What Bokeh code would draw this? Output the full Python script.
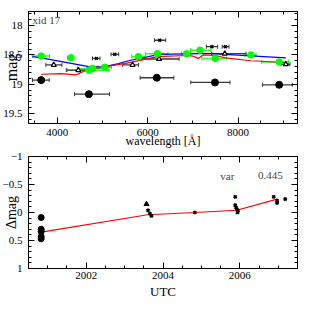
import numpy as np
from bokeh.plotting import figure
from bokeh.layouts import column
from bokeh.models import Range1d, LinearAxis, Label, FixedTicker
from bokeh.embed import file_html
from bokeh.resources import INLINE

# ---------------- top panel data (wavelength [A], mag) ----------------
blk_wl = [3645, 4700, 6203, 7490, 8910]
blk_mag = [18.93, 19.17, 18.89, 18.97, 19.01]
blk_lo = [3453, 4383, 5834, 6954, 8540]
blk_hi = [3822, 5158, 6580, 7823, 9200]

grn_wl = [3645, 4300, 4700, 4780, 5050, 5796, 6216, 6862, 7157, 7495, 8283, 8910]
grn_mag = [18.52, 18.55, 18.76, 18.73, 18.71, 18.53, 18.48, 18.48, 18.42, 18.56, 18.50, 18.62]
grn_lo = [3450, 4230, 4220, 4450, 4900, 5650, 5950, 6750, 6950, 7200, 8150, 8526]
grn_hi = [3830, 4370, 5145, 5100, 5200, 5950, 6450, 6950, 7400, 7750, 8400, 9117]

xm_wl = [4866, 5274, 6268, 7422, 7721]
xm_mag = [18.56, 18.49, 18.25, 18.36, 18.36]
xm_lo = [4780, 5190, 6150, 7300, 7650]
xm_hi = [4944, 5360, 6400, 7550, 7800]

tri_wl = [3923, 4466, 5666, 6253, 7707, 9058]
tri_mag = [18.67, 18.76, 18.67, 18.57, 18.48, 18.66]
tri_lo = [3748, 4200, 5450, 5810, 7418, 8950]
tri_hi = [4103, 4776, 5800, 6696, 8178, 9150]

blue_wl = [3450, 3645, 4700, 5000, 5357, 5579, 6253, 7157, 7418, 9058]
blue_mag = [18.53, 18.55, 18.70, 18.71, 18.65, 18.60, 18.49, 18.48, 18.48, 18.55]

red_wl = [3645, 4090, 4422, 4644, 5050, 5492, 6216, 6862, 7000, 7118, 7230, 7495, 7721, 8283, 9058]
red_mag = [18.83, 18.82, 18.84, 18.76, 18.70, 18.65, 18.53, 18.51, 18.52, 18.56, 18.50, 18.51, 18.55, 18.60, 18.63]

# ---------------- bottom panel data (UTC year, delta mag) ----------------
lc_circ_t = [2000.83, 2000.83, 2000.83, 2000.83, 2000.83]
lc_circ_d = [0.09, 0.30, 0.34, 0.43, 0.47]
lc_tri_t = [2003.57]
lc_tri_d = [-0.15]
lc_x_t = [2003.61, 2003.66, 2003.70, 2004.83, 2005.88, 2005.88, 2005.90, 2005.92, 2005.95, 2005.94,
          2006.88, 2006.97, 2006.97, 2007.18]
lc_x_d = [-0.04, 0.02, 0.06, 0.00, -0.28, -0.13, -0.09, -0.06, -0.03, 0.00,
          -0.28, -0.21, -0.17, -0.24]
fit_t = [2000.83, 2003.6, 2004.83, 2005.92, 2006.97]
fit_d = [0.35, 0.04, 0.00, -0.04, -0.24]

var_value = "0.445"

FONT = "Liberation Serif"


def style_axis(ax, labels=True):
    ax.axis_line_color = "black"
    ax.major_tick_in = 6
    ax.major_tick_out = 0
    ax.minor_tick_in = 3
    ax.minor_tick_out = 0
    ax.major_tick_line_color = "black"
    ax.minor_tick_line_color = "black"
    ax.major_label_text_font = FONT
    ax.major_label_text_color = "black"
    ax.axis_label_text_font = FONT
    ax.axis_label_text_font_style = "normal"
    ax.axis_label_text_color = "black"
    if labels:
        ax.major_label_text_font_size = "11px"
        ax.major_label_standoff = 6
    else:
        ax.major_label_text_font_size = "0px"
        ax.major_label_standoff = 0


def make_fig(xr, yr, xt, yt, border_top, border_bottom):
    p = figure(frame_width=269, frame_height=112, x_range=xr, y_range=yr,
               output_backend="svg", toolbar_location=None,
               min_border_left=26, min_border_right=8,
               min_border_top=border_top, min_border_bottom=border_bottom)
    p.grid.visible = False
    p.outline_line_color = "black"
    p.background_fill_color = "white"
    p.border_fill_color = "white"
    bx = p.below[0]
    ly = p.left[0]
    bx.ticker = xt
    ly.ticker = yt
    style_axis(bx)
    style_axis(ly)
    ta = LinearAxis(ticker=xt)
    style_axis(ta, labels=False)
    ra = LinearAxis(ticker=yt)
    style_axis(ra, labels=False)
    p.add_layout(ta, "above")
    p.add_layout(ra, "right")
    return p, bx, ly


# ---------------- top panel ----------------
xt1 = FixedTicker(ticks=[4000, 6000, 8000], minor_ticks=list(np.arange(3500, 9400, 500)))
yt1 = FixedTicker(ticks=[18, 18.5, 19, 19.5], minor_ticks=list(np.round(np.arange(17.8, 19.7, 0.1), 2)))
p1, bx1, ly1 = make_fig(Range1d(3364, 9316), Range1d(19.67, 17.76), xt1, yt1, 11, 0)
bx1.axis_label = "wavelength [Å]"
bx1.axis_label_text_font_size = "12px"
bx1.axis_label_standoff = -5
bx1.major_label_standoff = 5
ly1.axis_label = "mag"
ly1.axis_label_text_font_size = "16px"
ly1.axis_label_standoff = -20

ERR = "#3a3a3a"
GRN = "#00ff00"

# green
p1.segment(grn_lo, grn_mag, grn_hi, grn_mag, line_color=GRN, line_width=1.5, line_alpha=0.8)
p1.scatter(grn_lo, grn_mag, marker="dash", angle=np.pi / 2, size=4, line_color=GRN)
p1.scatter(grn_hi, grn_mag, marker="dash", angle=np.pi / 2, size=4, line_color=GRN)
# black circles
p1.segment(blk_lo, blk_mag, blk_hi, blk_mag, line_color=ERR, line_width=1.3)
p1.scatter(blk_lo, blk_mag, marker="dash", angle=np.pi / 2, size=4, line_color=ERR)
p1.scatter(blk_hi, blk_mag, marker="dash", angle=np.pi / 2, size=4, line_color=ERR)
# triangles
p1.segment(tri_lo, tri_mag, tri_hi, tri_mag, line_color=ERR, line_width=1.3)
p1.scatter(tri_lo, tri_mag, marker="dash", angle=np.pi / 2, size=4, line_color=ERR)
p1.scatter(tri_hi, tri_mag, marker="dash", angle=np.pi / 2, size=4, line_color=ERR)
# x markers
p1.segment(xm_lo, xm_mag, xm_hi, xm_mag, line_color=ERR, line_width=1.3)
p1.scatter(xm_lo, xm_mag, marker="dash", angle=np.pi / 2, size=4, line_color=ERR)
p1.scatter(xm_hi, xm_mag, marker="dash", angle=np.pi / 2, size=4, line_color=ERR)

p1.line(blue_wl, blue_mag, line_color="blue", line_width=1.2)
p1.line(red_wl, red_mag, line_color="red", line_width=1.2)

p1.scatter(tri_wl, tri_mag, marker="triangle", size=5, fill_color="white",
           line_color="black", line_width=1.2)
p1.scatter(xm_wl, xm_mag, marker="x", size=4, line_color="black", line_width=1.5)
p1.scatter(grn_wl, grn_mag, marker="circle", size=6.5, fill_color=GRN, line_color=GRN)
p1.scatter(blk_wl, blk_mag, marker="circle", size=7, fill_color="black", line_color="black")

p1.add_layout(Label(x=3450, y=17.80, text="xid 17", text_font=FONT, text_font_size="11px",
                    text_baseline="top", text_align="left"))

# ---------------- bottom panel ----------------
xt2 = FixedTicker(ticks=[2002, 2004, 2006], minor_ticks=list(np.arange(2000.5, 2007.6, 0.5)))
yt2 = FixedTicker(ticks=[-1, -0.5, 0, 0.5, 1], minor_ticks=list(np.round(np.arange(-1, 1.01, 0.1), 2)))
p2, bx2, ly2 = make_fig(Range1d(2000.5, 2007.5), Range1d(1, -1), xt2, yt2, 6, 0)
ly2.major_label_overrides = {-1: "\u22121", -0.5: "\u22120.5", 0: "0", 0.5: "0.5", 1: "1"}
bx2.axis_label = "UTC"
bx2.axis_label_text_font_size = "13px"
bx2.axis_label_standoff = 2
bx2.major_label_standoff = 3
ly2.axis_label = "\u0394mag"
ly2.axis_label_text_font_size = "14px"
ly2.axis_label_standoff = -19

p2.line(fit_t, fit_d, line_color="red", line_width=1.2)
p2.scatter(lc_circ_t, lc_circ_d, marker="circle", size=6, fill_color="black", line_color="black")
p2.scatter(lc_tri_t, lc_tri_d, marker="triangle", size=5, fill_color="black", line_color="black")
p2.scatter(lc_x_t, lc_x_d, marker="x", size=4, line_color="black", line_width=2)

p2.add_layout(Label(x=2005.49, y=-0.655, text="var", text_font=FONT, text_font_size="11px",
                    text_align="left", text_baseline="middle"))
p2.add_layout(Label(x=2006.47, y=-0.655, text=var_value, text_font=FONT, text_font_size="11px",
                    text_align="left", text_baseline="middle"))

layout = column(p1, p2, spacing=0)
open("out.html", "w").write(file_html(layout, INLINE))
